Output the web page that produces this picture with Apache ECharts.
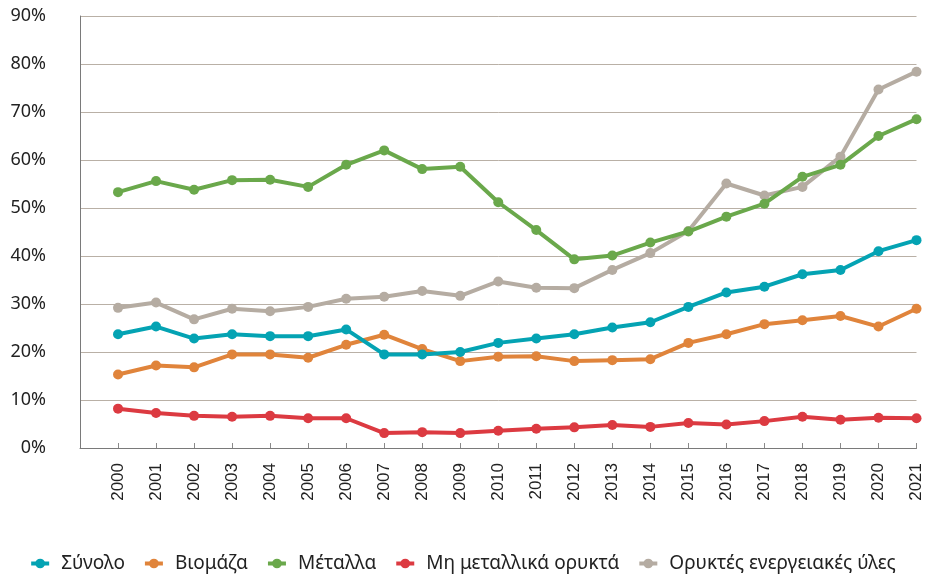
<!DOCTYPE html>
<html>
<head>
    <meta charset="utf-8"/>
    <title>Μέταλλα και ορυκτά</title>
    <style>
        html, body { margin: 0; padding: 0; background: #fff; }
        #main { width: 925px; height: 578px; }
    </style>
</head>
<body>
<div id="main"></div>
<script src="https://cdn.jsdelivr.net/npm/echarts@6/dist/echarts.min.js"></script>
<script>
    // δεδομένα
    var years = ['2000', '2001', '2002', '2003', '2004', '2005', '2006', '2007', '2008', '2009', '2010',
        '2011', '2012', '2013', '2014', '2015', '2016', '2017', '2018', '2019', '2020', '2021'];
    var synolo = [23.7, 25.3, 22.8, 23.7, 23.3, 23.3, 24.7, 19.5, 19.5, 20.0, 21.9,
        22.8, 23.7, 25.1, 26.2, 29.4, 32.4, 33.6, 36.2, 37.1, 41.0, 43.3];
    var viomaza = [15.3, 17.2, 16.8, 19.5, 19.5, 18.8, 21.5, 23.6, 20.6, 18.1, 19.0,
        19.1, 18.1, 18.3, 18.5, 21.9, 23.7, 25.8, 26.6, 27.5, 25.3, 29.0];
    var metalla = [53.3, 55.6, 53.8, 55.8, 55.9, 54.4, 59.0, 62.0, 58.1, 58.6, 51.2,
        45.4, 39.3, 40.1, 42.8, 45.1, 48.2, 50.9, 56.5, 59.0, 65.0, 68.5];
    var mhMetallika = [8.2, 7.3, 6.7, 6.5, 6.7, 6.2, 6.2, 3.1, 3.3, 3.1, 3.6,
        4.0, 4.3, 4.8, 4.4, 5.2, 4.9, 5.6, 6.5, 5.9, 6.3, 6.2];
    var energeiakes = [29.2, 30.3, 26.8, 29.0, 28.5, 29.4, 31.1, 31.5, 32.7, 31.7, 34.7,
        33.4, 33.3, 37.1, 40.6, 45.2, 55.1, 52.6, 54.4, 60.7, 74.7, 78.4];

    var yTicks = [0, 10, 20, 30, 40, 50, 60, 70, 80, 90];

    var txtFont = '"Noto Sans", sans-serif';

    // κενή πρώτη θέση ώστε το 2000 να μην κάθεται πάνω στον άξονα y
    var cats = [''].concat(years);
    function pad(arr) {
        return [null].concat(arr);
    }

    function makeSeries(name, data, color, z) {
        return {
            name: name,
            type: 'line',
            data: pad(data),
            z: z,
            clip: false,
            symbol: 'circle',
            symbolSize: 10,
            showSymbol: true,
            lineStyle: {width: 4, color: color},
            itemStyle: {color: color},
            emphasis: {disabled: true}
        };
    }

    var chart = echarts.init(document.getElementById('main'));
    var option = {
        animation: false,
        backgroundColor: '#fff',
        grid: {left: 80, right: 7, top: 16, bottom: 130},
        legend: {
            bottom: 0,
            left: 'center',
            itemWidth: 18,
            itemHeight: 12,
            itemGap: 18,
            lineStyle: {width: 4},
            textStyle: {fontFamily: txtFont, fontSize: 19, color: '#222', padding: [0, 0, 0, 7]},
            data: ['Σύνολο', 'Βιομάζα', 'Μέταλλα', 'Μη μεταλλικά ορυκτά', 'Ορυκτές ενεργειακές ύλες']
        },
        xAxis: {
            type: 'category',
            boundaryGap: false,
            data: cats,
            axisLine: {lineStyle: {color: '#7a7a7a', width: 1}},
            axisTick: {
                inside: true,
                length: 5,
                interval: function (i) { return i > 0; },
                lineStyle: {color: '#8a8a8a'}
            },
            axisLabel: {
                interval: 0,
                rotate: 90,
                margin: 15,
                fontFamily: '"Liberation Sans", Arial, sans-serif',
                fontSize: 17,
                color: '#222'
            },
            splitLine: {show: false}
        },
        yAxis: {
            type: 'value',
            min: yTicks[0],
            max: yTicks[yTicks.length - 1],
            interval: 10,
            axisLine: {show: true, lineStyle: {color: '#7a7a7a', width: 1}},
            axisTick: {show: false},
            axisLabel: {
                formatter: '{value}%',
                margin: 34,
                fontFamily: txtFont,
                fontSize: 18,
                color: '#222'
            },
            splitLine: {lineStyle: {color: '#b9b0a6', width: 1}}
        },
        series: [
            makeSeries('Σύνολο', synolo, '#04a3b3', 5),
            makeSeries('Βιομάζα', viomaza, '#e0843b', 4),
            makeSeries('Μέταλλα', metalla, '#6aa84b', 3),
            makeSeries('Μη μεταλλικά ορυκτά', mhMetallika, '#dc3a41', 3),
            makeSeries('Ορυκτές ενεργειακές ύλες', energeiakes, '#b5aca2', 2)
        ]
    };
    chart.setOption(option);
    window.onresize = function () {
        chart.resize();
    };
</script>
</body>
</html>
